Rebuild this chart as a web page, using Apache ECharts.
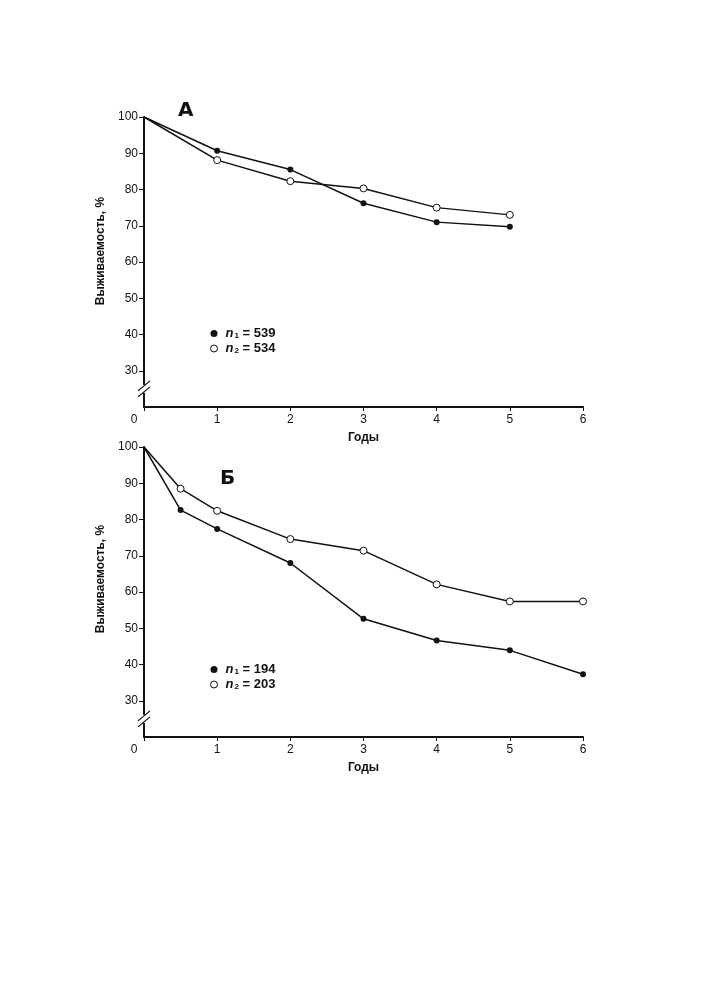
<!DOCTYPE html>
<html>
<head>
<meta charset="utf-8">
<script src="https://cdn.jsdelivr.net/npm/echarts@6/dist/echarts.min.js"></script>
<style>
html,body{margin:0;padding:0;background:#fff;}
#c{width:705px;height:1000px;}
</style>
</head>
<body>
<div id="c"></div>
<script>
// Panel A
const yearsA = [0, 1, 2, 3, 4, 5];
const aN1 = [100, 90.7, 85.5, 76.2, 71.0, 69.7];
const aN2 = [100, 88.1, 82.3, 80.3, 75.0, 73.0];
// Panel B
const yearsB = [0, 0.5, 1, 2, 3, 4, 5, 6];
const bN1 = [100, 82.6, 77.4, 68.0, 52.6, 46.6, 43.9, 37.3];
const bN2 = [100, 88.5, 82.4, 74.6, 71.4, 62.1, 57.4, 57.4];
// labels
const panelTitles = ['A', 'Б'];
const legendA = [['1', '539'], ['2', '534']];
const legendB = [['1', '194'], ['2', '203']];
const yTicks = [30, 40, 50, 60, 70, 80, 90, 100];
const xTicks = [0, 1, 2, 3, 4, 5, 6];
const yName = 'Выживаемость, %';
const xName = 'Годы';

const FONT = '"Liberation Sans", Arial, sans-serif';
const chart = echarts.init(document.getElementById('c'), null, {renderer: 'canvas'});

function pts(xs, ys) {
  return xs.map((x, i) => i === 0 ? {value: [x, ys[i]], symbol: 'none'} : [x, ys[i]]);
}
const grids = [
  {left: 144, right: 122, top: 117, height: 290},
  {left: 144, right: 122, top: 447, height: 290}
];
function xAx(i) {
  return {
    type: 'value', gridIndex: i, min: 0, max: 6, interval: 1,
    name: xName, nameLocation: 'middle', nameGap: 25,
    nameTextStyle: {fontFamily: FONT, fontWeight: 'bold', fontSize: 12, color: '#111'},
    axisLine: {lineStyle: {color: '#111', width: 2}},
    axisTick: {show: true, length: 4, lineStyle: {color: '#111', width: 1}},
    splitLine: {show: false},
    axisLabel: {
      customValues: xTicks,
      fontFamily: FONT, fontSize: 12, color: '#111', margin: 7,
      formatter: v => v === 0 ? '{z|0}' : String(v),
      rich: {z: {fontFamily: FONT, fontSize: 12, color: '#111', padding: [0, 20, 0, 0]}}
    }
  };
}
function yAx(i, shift) {
  return {
    type: 'value', gridIndex: i, min: 20, max: 100, interval: 10,
    name: yName, nameLocation: 'middle', nameGap: 34, nameRotate: 90,
    nameTextStyle: {fontFamily: FONT, fontWeight: 'bold', fontSize: 12, color: '#111', padding: [0, 0, 0, shift]},
    axisLine: {show: true, lineStyle: {color: '#111', width: 2}},
    axisTick: {show: true, length: 5, customValues: yTicks, lineStyle: {color: '#111', width: 1}},
    splitLine: {show: false},
    axisLabel: {customValues: yTicks, fontFamily: FONT, fontSize: 12, color: '#111', margin: 6}
  };
}
function ser(name, i, data, filled) {
  return {
    name: name, type: 'line', xAxisIndex: i, yAxisIndex: i, data: data,
    symbol: 'circle', symbolSize: filled ? 6 : 7,
    lineStyle: {color: '#111', width: 1.5},
    itemStyle: filled ? {color: '#111', borderColor: '#111', borderWidth: 0}
                      : {color: '#fff', borderColor: '#111', borderWidth: 1},
    emphasis: {disabled: true},
    animation: false, z: filled ? 3 : 4
  };
}
const nm = (p, k, v) => p + k + '=' + v;
const rich = {
  n: {fontFamily: FONT, fontStyle: 'italic', fontWeight: 'bold', fontSize: 13, color: '#111', lineHeight: 12, padding: [0, 0, 0, 3]},
  s: {fontFamily: FONT, fontWeight: 'bold', fontSize: 8, color: '#111', verticalAlign: 'bottom', padding: [3, 0, 0, 1], lineHeight: 10},
  t: {fontFamily: FONT, fontWeight: 'bold', fontSize: 13, color: '#111', lineHeight: 12}
};
function legendFmt(name) {
  // name like "A1=539"
  const m = name.slice(1).split('=');
  return '{n|n}{s|' + m[0] + '}{t| = ' + m[1] + '}';
}
function legend(prefix, items, top) {
  return {
    orient: 'vertical', left: 210, top: top, itemWidth: 7, itemHeight: 7, itemGap: 2,
    icon: 'circle', selectedMode: false, padding: 0,
    data: [
      {name: nm(prefix, items[0][0], items[0][1]), itemStyle: {color: '#111', borderWidth: 0}},
      {name: nm(prefix, items[1][0], items[1][1]), itemStyle: {color: '#fff', borderColor: '#111', borderWidth: 1}}
    ],
    formatter: legendFmt,
    textStyle: {rich: rich}
  };
}

chart.setOption({
  backgroundColor: '#fff',
  animation: false,
  title: [
    {text: panelTitles[0], left: 173, top: 96, textStyle: {fontFamily: '"DejaVu Sans", sans-serif', fontWeight: 'bold', fontSize: 20, color: '#111'}},
    {text: panelTitles[1], left: 215, top: 464, textStyle: {fontFamily: '"DejaVu Sans", sans-serif', fontWeight: 'bold', fontSize: 20, color: '#111'}}
  ],
  grid: grids,
  xAxis: [xAx(0), xAx(1)],
  yAxis: [yAx(0, 22), yAx(1, 26)],
  legend: [legend('A', legendA, 327), legend('B', legendB, 663)],
  series: [
    ser(nm('A', legendA[0][0], legendA[0][1]), 0, pts(yearsA, aN1), true),
    ser(nm('A', legendA[1][0], legendA[1][1]), 0, pts(yearsA, aN2), false),
    ser(nm('B', legendB[0][0], legendB[0][1]), 1, pts(yearsB, bN1), true),
    ser(nm('B', legendB[1][0], legendB[1][1]), 1, pts(yearsB, bN2), false)
  ]
});

// axis break marks "//" on the y axes
const breakVal = 25;
const g = [];
[0, 1].forEach(i => {
  const p = chart.convertToPixel({gridIndex: i}, [0, breakVal]);
  const x = p[0], y = p[1];
  g.push({type: 'rect', shape: {x: x - 3, y: y - 4, width: 6, height: 8}, style: {fill: '#fff'}, z: 100});
  [-3, 3].forEach(d => {
    g.push({type: 'line', shape: {x1: x - 6, y1: y + d + 5, x2: x + 6, y2: y + d - 5},
      style: {stroke: '#111', lineWidth: 1.3}, z: 101});
  });
});
chart.setOption({graphic: g});
</script>
</body>
</html>
